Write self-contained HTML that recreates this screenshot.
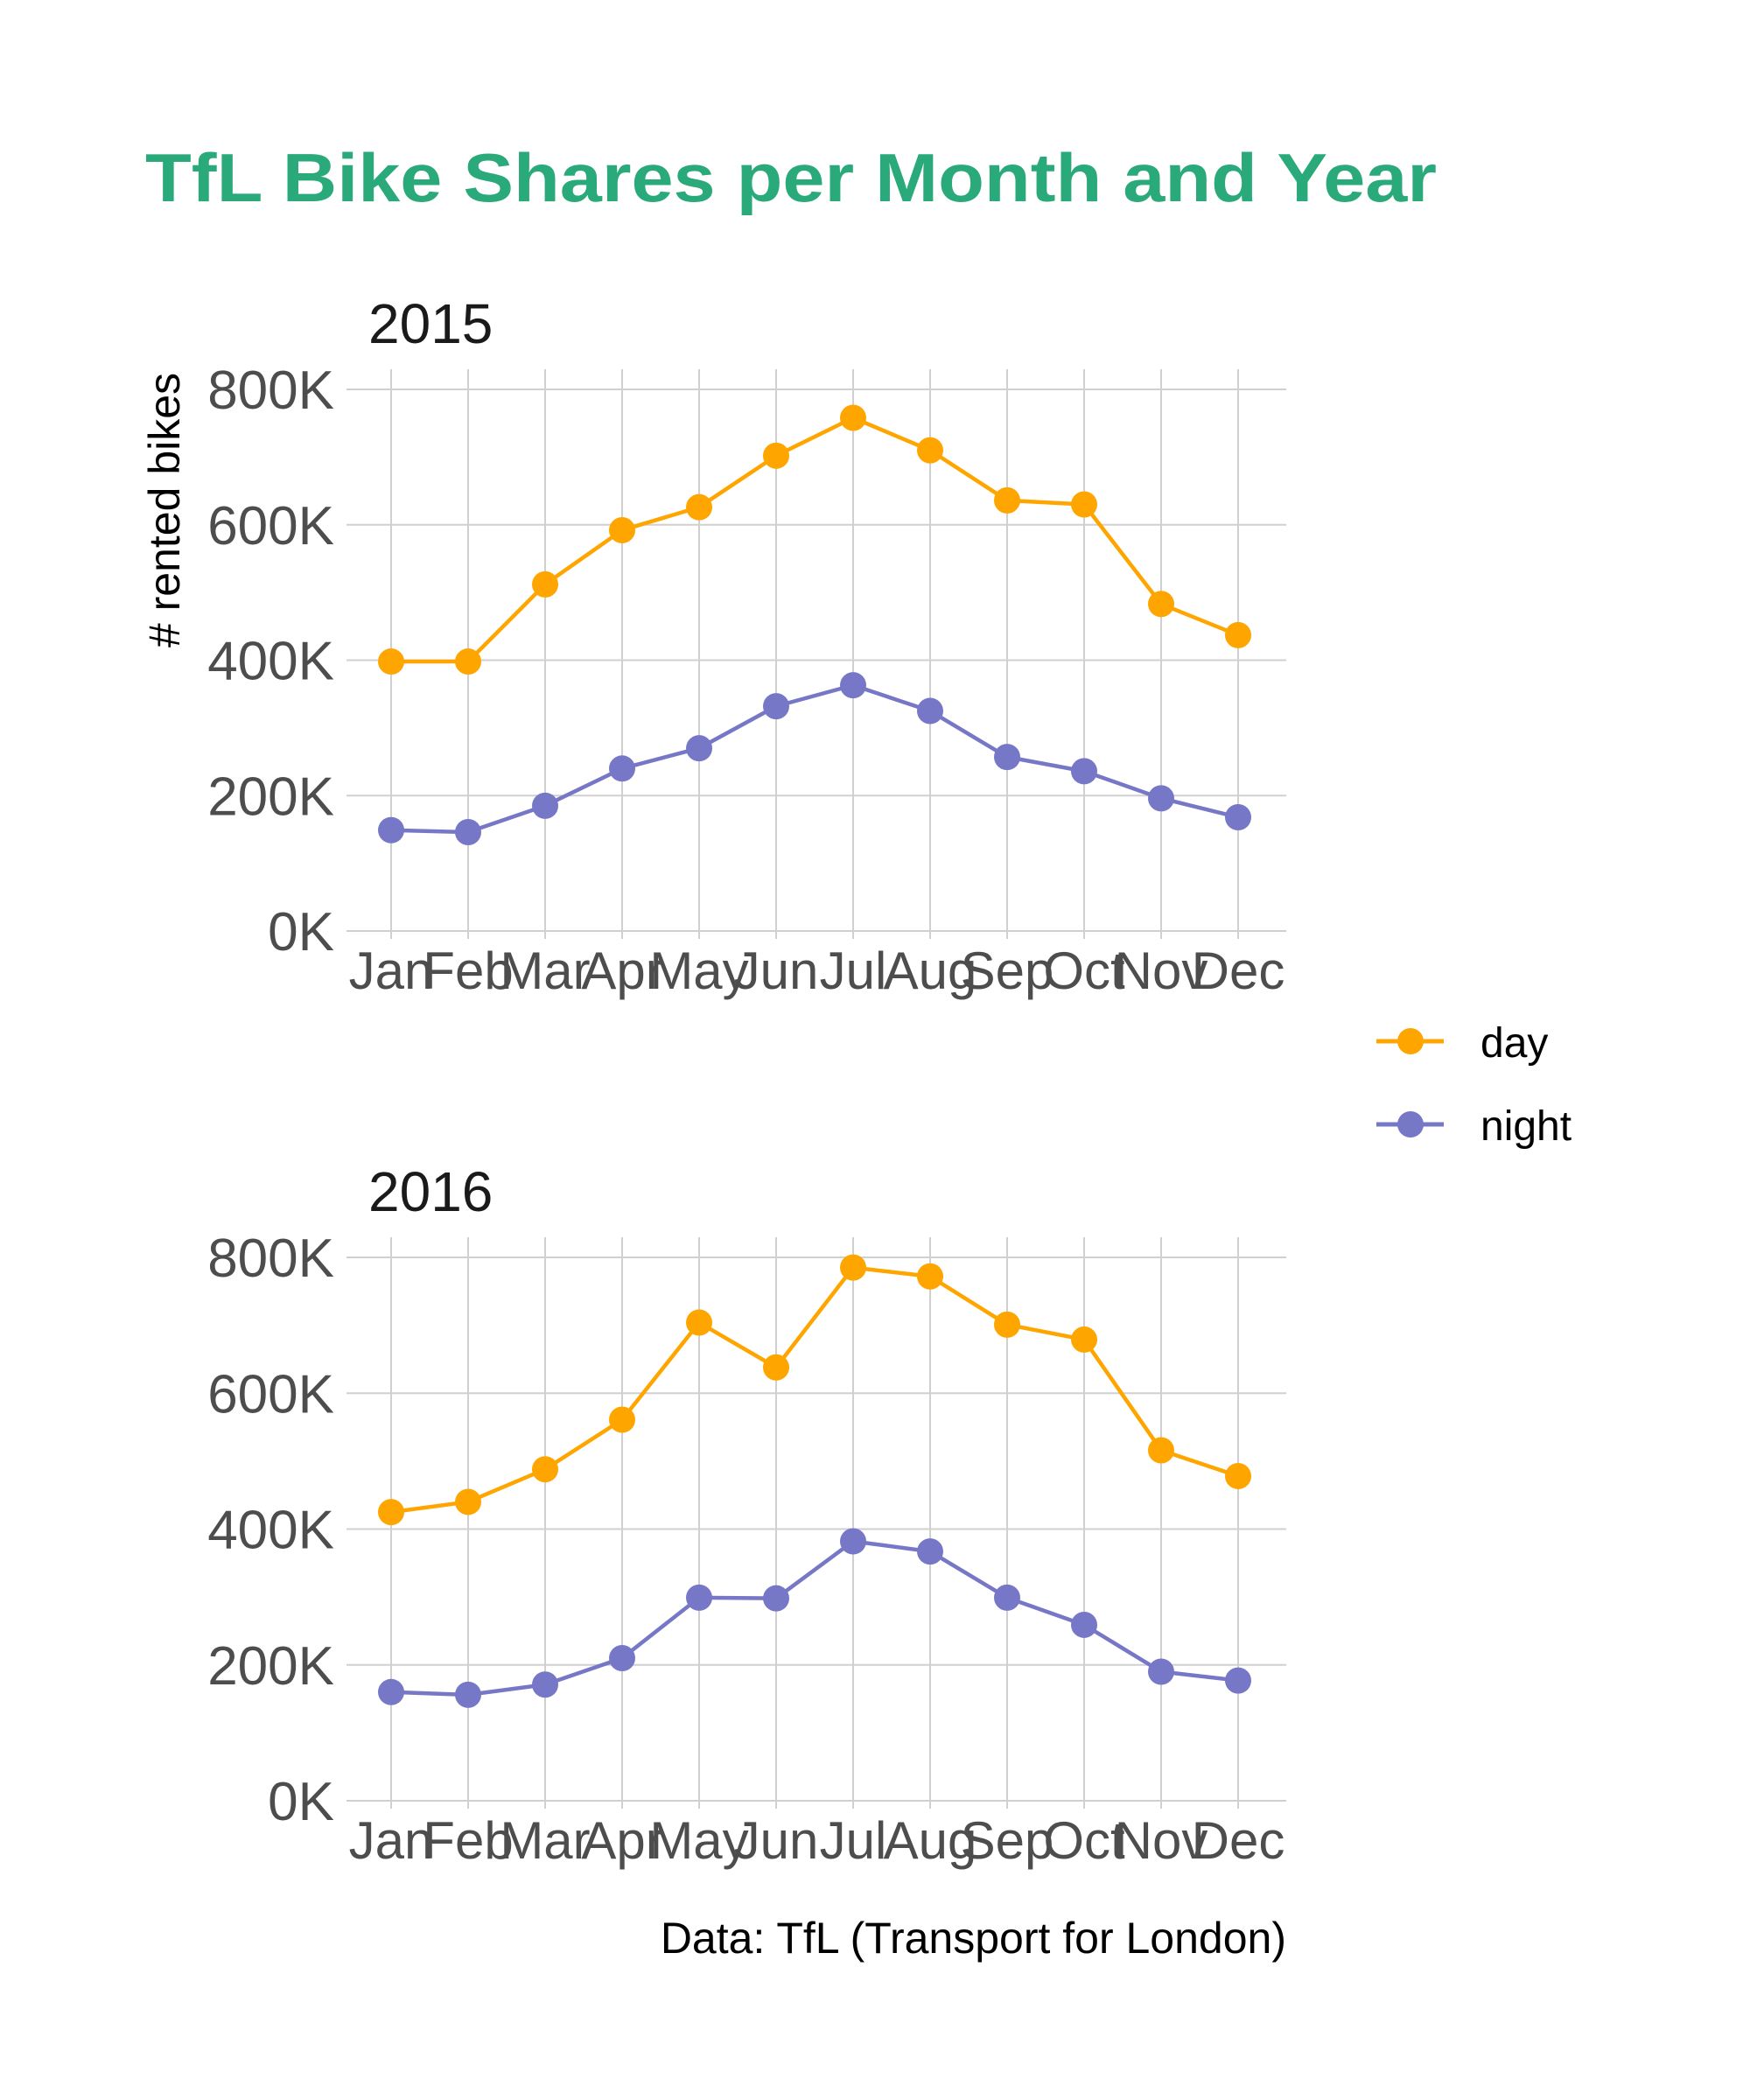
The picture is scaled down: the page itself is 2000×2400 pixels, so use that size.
<!DOCTYPE html>
<html><head><meta charset="utf-8"><style>
html,body{margin:0;padding:0;background:#fff}
svg{display:block}
text{font-family:"Liberation Sans",sans-serif}
</style></head><body>
<svg id="chart" width="2000" height="2400" viewBox="0 0 2000 2400" xmlns="http://www.w3.org/2000/svg">
<text x="166" y="230" font-size="78" font-weight="bold" fill="#2aa97b" textLength="1476" lengthAdjust="spacingAndGlyphs">TfL Bike Shares per Month and Year</text>
<text transform="translate(205,583) rotate(-90)" text-anchor="middle" font-size="50" fill="#000"># rented bikes</text>
<g id="panels"></g>
<g>
<g>
<line x1="1573" y1="1190" x2="1650" y2="1190" stroke="#FFA500" stroke-width="5"/>
<circle cx="1612" cy="1190" r="15" fill="#FFA500"/>
<text x="1692" y="1208" font-size="48" fill="#000">day</text></g>
<g>
<line x1="1573" y1="1285" x2="1650" y2="1285" stroke="#7777C7" stroke-width="5"/>
<circle cx="1612" cy="1285" r="15" fill="#7777C7"/>
<text x="1692" y="1303" font-size="48" fill="#000">night</text></g>
</g>
<text x="1470" y="2232" text-anchor="end" font-size="50" fill="#000">Data: TfL (Transport for London)</text>
</svg>
<script>
const months = ["Jan","Feb","Mar","Apr","May","Jun","Jul","Aug","Sep","Oct","Nov","Dec"];
const yTicks = [0,200,400,600,800];
const yTickLabels = ["0K","200K","400K","600K","800K"];
const years = ["2015","2016"];
const day2015 = [398,398,512,592,626,702,758,710,636,630,483,437];
const night2015 = [149,146,185,240,270,332,363,325,257,236,196,168];
const day2016 = [425,440,488,561,704,638,785,772,701,679,516,478];
const night2016 = [160,156,171,210,299,298,382,367,299,259,190,177];

const NS="http://www.w3.org/2000/svg";
const root=document.getElementById('panels');
function mk(tag,attrs,parent){const e=document.createElementNS(NS,tag);for(const k in attrs)e.setAttribute(k,attrs[k]);parent.appendChild(e);return e;}
const panels=[{y0:1064,y800:445,year:years[0],day:day2015,night:night2015},{y0:2058,y800:1437,year:years[1],day:day2016,night:night2016}];
const xLeft=396,xRight=1470,xJan=447,xDec=1415;
function xs(i){return xJan+(xDec-xJan)*i/(months.length-1);}
panels.forEach((p,pi)=>{
  const ys=v=>p.y0+(p.y800-p.y0)*v/800;
  const g=mk('g',{},root);
  
  
  const t=mk('text',{x:421,y:p.y800-53,'font-size':64,fill:'#1a1a1a'},g);t.textContent=p.year;
  
  
  yTicks.forEach((v,i)=>{
    const l=mk('line',{x1:xLeft,x2:xRight,y1:ys(v),y2:ys(v),stroke:'#d0d0d0','stroke-width':2},g);
    
    
    const tx=mk('text',{x:382,y:ys(v)+22,'text-anchor':'end','font-size':62,fill:'#4d4d4d'},g);tx.textContent=yTickLabels[i];
    
    
  });
  months.forEach((m,i)=>{
    const l=mk('line',{x1:xs(i),x2:xs(i),y1:p.y800-23,y2:p.y0+9,stroke:'#d0d0d0','stroke-width':2},g);
    
    
    const tx=mk('text',{x:xs(i),y:p.y0+66,'text-anchor':'middle','font-size':60,fill:'#4d4d4d'},g);tx.textContent=m;
    
    
  });
  [['day','#FFA500',p.day],['night','#7777C7',p.night]].forEach(([nm,col,arr])=>{
    const pl=mk('polyline',{points:arr.map((v,i)=>xs(i)+','+ys(v)).join(' '),fill:'none',stroke:col,'stroke-width':4.5,'stroke-linejoin':'round'},g);
    
    
    arr.forEach((v,i)=>{
      const c=mk('circle',{cx:xs(i),cy:ys(v),r:15,fill:col},g);
      
      
    });
  });
});
</script>
</body></html>
